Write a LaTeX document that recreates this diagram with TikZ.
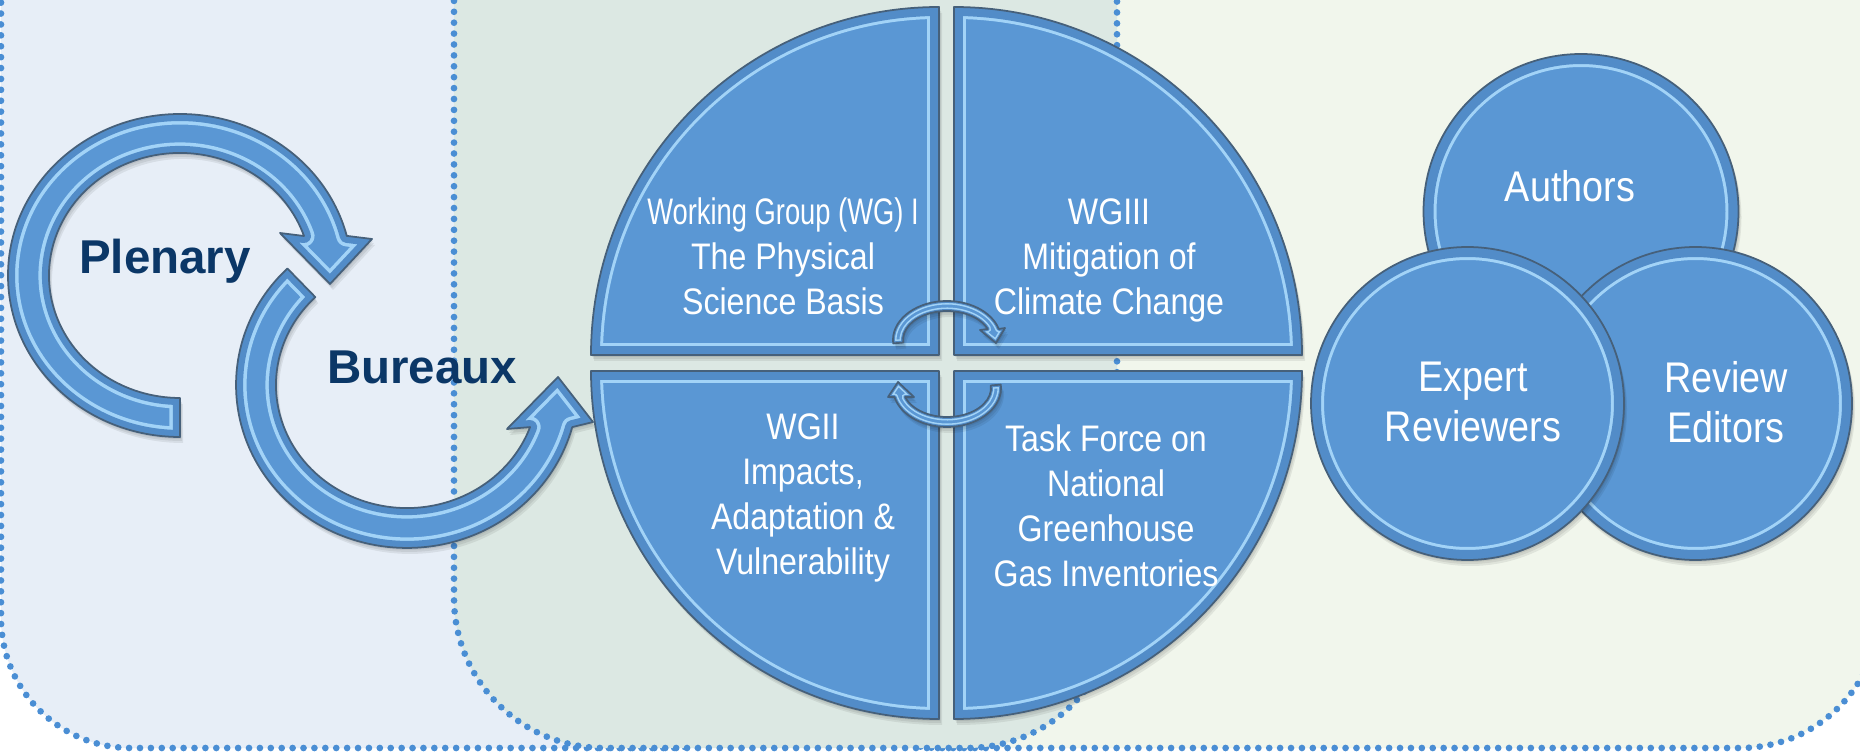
\documentclass[tikz,border=0pt]{standalone}
\usepackage{fontspec}
\setmainfont{Liberation Sans}
\newfontfamily\narrowfont[FakeStretch=0.87]{Liberation Sans}
\newfontfamily\wgfont[FakeStretch=0.74]{Liberation Sans}
\newfontfamily\circfont[FakeStretch=0.88]{Liberation Sans}

\definecolor{bgblue}{HTML}{E7EEF7}
\definecolor{bggreen}{HTML}{DCE8E3}
\definecolor{bgpale}{HTML}{F1F6EC}
\definecolor{dotblue}{HTML}{4A8ED4}
\definecolor{shapeblue}{HTML}{5A97D4}
\definecolor{bandblue}{HTML}{528CC8}
\definecolor{glint}{HTML}{A2D3F7}
\definecolor{rimgray}{HTML}{46607A}
\definecolor{navy}{HTML}{0B3767}

\tikzset{
  dotborder/.style={draw=dotblue, line width=1.9pt, dash pattern=on 0pt off 3.1pt, line cap=round},
  qtext/.style={text=white, align=center, inner sep=0pt,
    font=\narrowfont\fontsize{10.5pt}{12.8pt}\selectfont},
  ctext/.style={text=white, align=center, inner sep=0pt,
    font=\circfont\fontsize{12.2pt}{14.3pt}\selectfont},
  ltext/.style={text=navy, inner sep=0pt,
    font=\bfseries\fontsize{13.5pt}{16pt}\selectfont}
}

% Bevelled blue shape: soft shadow, fill, inner glint line, darker rim band, outline
\newcommand{\bevelshape}[3]{%
  \foreach \s in {2,4,6}{\fill[black, opacity=0.07, shift={(0.5*\s,\s)}] #1;}%
  \fill[shapeblue] #1;
  \begin{scope}
    \clip #1;
    \draw[glint, line width=#3, line join=round] #1;
    \draw[bandblue, line width=#2, line join=round] #1;
  \end{scope}
  \draw[rimgray, line width=0.5pt, line join=round] #1;
}

% Four quarter discs
\def\qUL{(939,355) -- (591,355) arc[start angle=180, end angle=270, radius=348] -- cycle}
\def\qUR{(954,355) -- (954,7) arc[start angle=270, end angle=360, radius=348] -- cycle}
\def\qLL{(939,371) -- (591,371) arc[start angle=180, end angle=90, radius=348] -- cycle}
\def\qLR{(954,371) -- (1302,371) arc[start angle=0, end angle=90, radius=348] -- cycle}

% Curved arrows (outer arc, head, inner arc back)
\def\arrP{(180,437) arc[start angle=90, end angle=345.8, x radius=172, y radius=161.5]
  -- (372,239) -- (330,284) -- (280,233) -- (304,236)
  arc[start angle=341.2, end angle=90, x radius=131, y radius=122.5] -- cycle}
\def\arrB{(287.4,268.5) arc[start angle=225.6, end angle=15, x radius=171, y radius=163]
  -- (593,422) -- (558,377) -- (507,429) -- (530.1,427.1)
  arc[start angle=20, end angle=225.6, x radius=131, y radius=123] -- cycle}
\def\arrU{(893.2,343.4) arc[start angle=175, end angle=343.6, x radius=54, y radius=39]
  -- (1005,328) -- (996,343) -- (980,330) -- (987.7,329)
  arc[start angle=337.7, end angle=175, x radius=44, y radius=29] -- cycle}
\def\arrL{(1000.8,384.6) arc[start angle=-5, end angle=166.7, x radius=54, y radius=39]
  -- (888,397) -- (898,382) -- (914,397) -- (905.2,397)
  arc[start angle=161.9, end angle=-5, x radius=44, y radius=29] -- cycle}

% Three overlapping discs
\def\cAuth{(1581,211.5) circle[radius=157.5]}
\def\cRev{(1695.5,403.5) circle[radius=156.5]}
\def\cExp{(1467.5,403.5) circle[radius=156.5]}

\begin{document}
\begin{tikzpicture}[x=0.01cm, y=-0.01cm]
  \useasboundingbox (0,0) rectangle (1860,752);
  \fill[white] (0,0) rectangle (1860,752);

  % background panels
  \path[fill=bgpale, dotborder, rounded corners=39.8pt] (800,-400) rectangle (1880,748);
  \path[fill=bgblue, dotborder, rounded corners=37pt] (1,-400) rectangle (800,748);
  \path[fill=bggreen, dotborder, rounded corners=42.7pt] (454,-400) rectangle (1117,748);

  % Plenary / Bureaux cycle arrows
  \bevelshape{\arrP}{4pt}{6pt}
  \bevelshape{\arrB}{4pt}{6pt}

  % working group quadrants
  \bevelshape{\qUL}{5.1pt}{6.8pt}
  \bevelshape{\qUR}{5.1pt}{6.8pt}
  \bevelshape{\qLL}{5.1pt}{6.8pt}
  \bevelshape{\qLR}{5.1pt}{6.8pt}

  % small exchange arrows at the centre
  \bevelshape{\arrU}{1.1pt}{2pt}
  \bevelshape{\arrL}{1.1pt}{2pt}

  % contributors
  \bevelshape{\cAuth}{5.7pt}{7.4pt}
  \bevelshape{\cRev}{5.7pt}{7.4pt}
  \bevelshape{\cExp}{5.7pt}{7.4pt}

  % labels
  \node[ltext, anchor=base] (plenary) at (165,274) {Plenary};
  \node[ltext, anchor=base] (bureaux) at (422,384) {Bureaux};

  \node[qtext] (wg1) at (783,256) {{\wgfont Working Group (WG) I}\\The Physical\\Science Basis};
  \node[qtext] (wg3) at (1109,260) {WGIII\\Mitigation of\\Climate Change};
  \node[qtext] (wg2) at (803,498) {WGII\\Impacts,\\Adaptation \&\\Vulnerability};
  \node[qtext] (tfi) at (1106,506) {Task Force on\\National\\Greenhouse\\Gas Inventories};

  \node[ctext, anchor=base] (authors) at (1570,202) {Authors};
  \node[ctext] (experts) at (1473,402) {Expert\\Reviewers};
  \node[ctext] (editors) at (1726,402) {Review\\Editors};
\end{tikzpicture}
\end{document}
